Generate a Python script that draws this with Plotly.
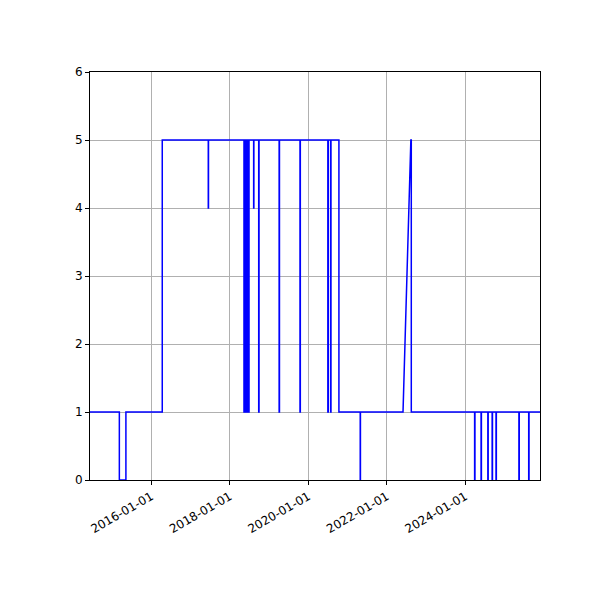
import plotly.graph_objects as go

# sample dates and values (vertical drops drawn as repeated dates)
dates = [
    "2014-06-10", "2015-03-10", "2015-03-10", "2015-05-10", "2015-05-10",
    "2016-04-12", "2016-04-12",
    "2017-06-14", "2017-06-14", "2017-06-16", "2017-06-16",
    "2018-05-12", "2018-05-12", "2018-05-14", "2018-05-14",
    "2018-05-22", "2018-05-22", "2018-05-24", "2018-05-24",
    "2018-06-02", "2018-06-02", "2018-06-04", "2018-06-04",
    "2018-06-14", "2018-06-14", "2018-06-16", "2018-06-16",
    "2018-06-26", "2018-06-26", "2018-06-28", "2018-06-28",
    "2018-08-10", "2018-08-10", "2018-08-12", "2018-08-12",
    "2018-09-26", "2018-09-26", "2018-09-29", "2018-09-29",
    "2019-04-04", "2019-04-04", "2019-04-07", "2019-04-07",
    "2019-10-15", "2019-10-15", "2019-10-18", "2019-10-18",
    "2020-06-30", "2020-06-30", "2020-07-04", "2020-07-04",
    "2020-07-26", "2020-07-26", "2020-07-29", "2020-07-29",
    "2020-10-11", "2020-10-11",
    "2021-04-27", "2021-04-27", "2021-04-29", "2021-04-29",
    "2022-05-30", "2022-08-11", "2022-08-15", "2022-08-15",
    "2024-03-26", "2024-03-26", "2024-03-29", "2024-03-29",
    "2024-05-25", "2024-05-25", "2024-05-28", "2024-05-28",
    "2024-07-27", "2024-07-27", "2024-07-30", "2024-07-30",
    "2024-09-05", "2024-09-05", "2024-09-08", "2024-09-08",
    "2024-10-11", "2024-10-11", "2024-10-14", "2024-10-14",
    "2025-05-12", "2025-05-12", "2025-05-15", "2025-05-15",
    "2025-08-11", "2025-08-11", "2025-08-14", "2025-08-14",
    "2025-11-24",
]
values = [
    1, 1, 0, 0, 1,
    1, 5,
    5, 4, 4, 5,
    5, 1, 1, 5,
    5, 1, 1, 5,
    5, 1, 1, 5,
    5, 1, 1, 5,
    5, 1, 1, 5,
    5, 4, 4, 5,
    5, 1, 1, 5,
    5, 1, 1, 5,
    5, 1, 1, 5,
    5, 1, 1, 5,
    5, 1, 1, 5,
    5, 1,
    1, 0, 0, 1,
    1, 5, 5, 1,
    1, 0, 0, 1,
    1, 0, 0, 1,
    1, 0, 0, 1,
    1, 0, 0, 1,
    1, 0, 0, 1,
    1, 0, 0, 1,
    1, 0, 0, 1,
    1,
]
tick_vals = ["2016-01-01", "2018-01-01", "2020-01-01", "2022-01-01", "2024-01-01"]

fig = go.Figure(go.Scatter(x=dates, y=values, mode="lines",
                           line=dict(color="blue", width=1.5),
                           showlegend=False))

axis_common = dict(showline=True, linecolor="black", linewidth=1, mirror=True,
                   ticks="outside", ticklen=4, tickcolor="black",
                   showgrid=True, gridcolor="#b0b0b0", gridwidth=1,
                   zeroline=False, tickfont=dict(family="DejaVu Sans", size=12, color="black"))
fig.update_xaxes(range=["2014-06-10", "2025-11-24"], tickvals=tick_vals,
                 ticktext=tick_vals, tickangle=-30, **axis_common)
fig.update_yaxes(range=[0, 6], dtick=1, **axis_common)
fig.update_layout(width=600, height=600, plot_bgcolor="white", paper_bgcolor="white",
                  margin=dict(l=82, r=68, t=64, b=128))
fig.write_html("out.html")
